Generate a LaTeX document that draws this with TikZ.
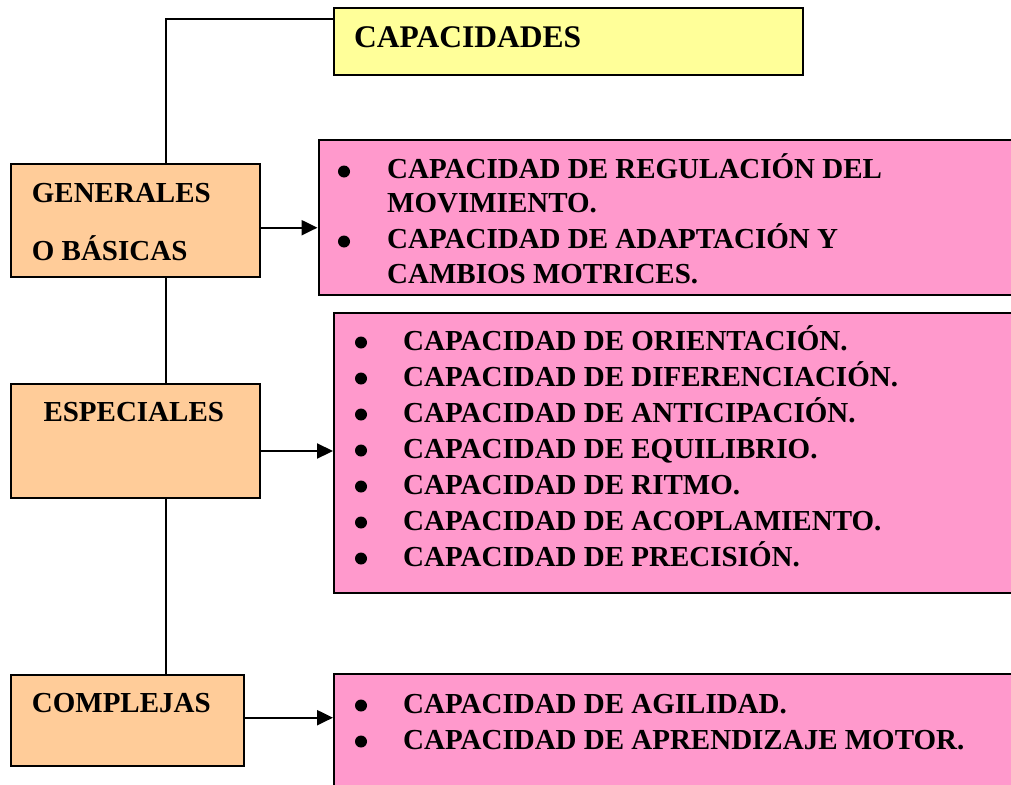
\documentclass[tikz,border=0pt]{standalone}
\usepackage{fontspec}
\setmainfont{Liberation Serif}
\usetikzlibrary{arrows.meta}
\definecolor{yel}{HTML}{FFFF99}
\definecolor{ora}{HTML}{FFCC99}
\definecolor{pnk}{HTML}{FF99CC}
\begin{document}
\begin{tikzpicture}[x=1pt,y=-1pt,
  box/.style={draw=black, line width=2.2pt, anchor=north west, inner sep=0pt},
  lbl/.style={anchor=base west, inner sep=0pt, font=\fontsize{29}{34}\selectfont\bfseries},
  ttl/.style={anchor=base west, inner sep=0pt, font=\fontsize{31.5}{36}\selectfont\bfseries},
  conn/.style={line width=2.2pt},
  arr/.style={conn, -{Triangle[length=16pt,width=15pt]}},
  dot/.style={circle, fill=black, inner sep=0pt, minimum size=12pt}]
\useasboundingbox (0,0) rectangle (1011,784);
\clip (0,0) rectangle (1011,784);
\fill[white] (0,0) rectangle (1011,784);
% boxes
\node[box, fill=yel, minimum width=469pt, minimum height=67pt] (title) at (333,7) {};
\node[box, fill=ora, minimum width=249pt, minimum height=113pt] (gen) at (9.5,162.5) {};
\node[box, fill=ora, minimum width=249pt, minimum height=114pt] (esp) at (9.5,382.7) {};
\node[box, fill=ora, minimum width=233pt, minimum height=91pt] (comp) at (9.5,674) {};
\node[box, fill=pnk, minimum width=720pt, minimum height=155pt] (p1) at (317.5,139) {};
\node[box, fill=pnk, minimum width=700pt, minimum height=280pt] (p2) at (333,311.7) {};
\node[box, fill=pnk, minimum width=700pt, minimum height=140pt] (p3) at (333,673) {};
% texts
\node[ttl] (tt) at (354,48) {CAPACIDADES};
\node[lbl] (g1) at (31.7,202) {GENERALES};
\node[lbl] (g2) at (31.7,260) {O BÁSICAS};
\node[lbl] (e1) at (43.3,421.7) {ESPECIALES};
\node[lbl] (c1) at (31.7,712.7) {COMPLEJAS};
% list 1
\node[dot] (b11) at (344,171.5) {};
\node[dot] (b12) at (344,241.5) {};
\node[lbl] (l11) at (387,178) {CAPACIDAD DE REGULACIÓN DEL};
\node[lbl] (l12) at (387,212.5) {MOVIMIENTO.};
\node[lbl] (l13) at (387,248) {CAPACIDAD DE ADAPTACIÓN Y};
\node[lbl] (l14) at (387,283) {CAMBIOS MOTRICES.};
% list 2
\foreach \i/\t/\b in {1/CAPACIDAD DE ORIENTACIÓN./350, 2/CAPACIDAD DE DIFERENCIACIÓN./386, 3/CAPACIDAD DE ANTICIPACIÓN./422, 4/CAPACIDAD DE EQUILIBRIO./458, 5/CAPACIDAD DE RITMO./494, 6/CAPACIDAD DE ACOPLAMIENTO./530, 7/CAPACIDAD DE PRECISIÓN./566}{
  \node[dot] (b2\i) at (361,\b-7.5) {};
  \node[lbl] (l2\i) at (403,\b) {\t};
}
% list 3
\node[dot] (b31) at (361,705.5) {};
\node[dot] (b32) at (361,741.5) {};
\node[lbl] (l31) at (403,713) {CAPACIDAD DE AGILIDAD.};
\node[lbl] (l32) at (403,749) {CAPACIDAD DE APRENDIZAJE MOTOR.};
% connectors
\coordinate (k) at (166,19.3);
\coordinate (a1) at (0,227.7);
\coordinate (a2) at (0,451);
\coordinate (a3) at (0,717.7);
\draw[conn] (gen.north -| k) -- (k) -- (k -| title.west);
\draw[conn] (gen.south -| k) -- (esp.north -| k);
\draw[conn] (esp.south -| k) -- (comp.north -| k);
\draw[arr] (gen.east |- a1) -- (p1.west |- a1);
\draw[arr] (esp.east |- a2) -- (p2.west |- a2);
\draw[arr] (comp.east |- a3) -- (p3.west |- a3);
\end{tikzpicture}
\end{document}
